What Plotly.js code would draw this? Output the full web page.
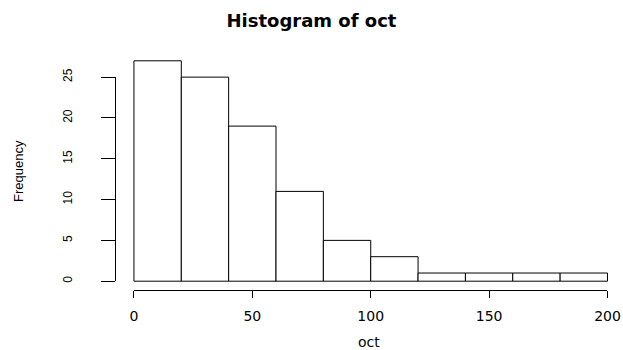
<!DOCTYPE html>
<html>
<head>
<meta charset="utf-8">
<script src="https://cdn.plot.ly/plotly-3.0.1.min.js"></script>
<style>html,body{margin:0;padding:0;background:#fff;}#chart{width:623px;height:350px;}</style>
</head>
<body>
<div id="chart"></div>
<script>
// Histogram data
const breaks = [0, 20, 40, 60, 80, 100, 120, 140, 160, 180, 200];
const counts = [27, 25, 19, 11, 5, 3, 1, 1, 1, 1];
const xTickVals = [0, 50, 100, 150, 200];
const yTickVals = [0, 5, 10, 15, 20, 25];
const titleText = "Histogram of oct";
const xLabel = "oct";
const yLabel = "Frequency";

// R-style plot region: 4% extension of data ranges
const xMin = breaks[0], xMax = breaks[breaks.length - 1];
const yMax = Math.max(...counts);
const xPad = 0.04 * (xMax - xMin);
const yPad = 0.04 * yMax;
const xRange = [xMin - xPad, 206.55];
const yRange = [-yPad, yMax + yPad];

const centers = counts.map((_, i) => (breaks[i] + breaks[i + 1]) / 2);
const widths = counts.map((_, i) => breaks[i + 1] - breaks[i]);

const xSpan = xRange[1] - xRange[0];
const ySpan = yRange[1] - yRange[0];
const x2Domain = [(xMin - xRange[0]) / xSpan, (xMax - xRange[0]) / xSpan];
const y2Domain = [(0 - yRange[0]) / ySpan, (yTickVals[yTickVals.length - 1] - yRange[0]) / ySpan];

const tickFont = {family: "Liberation Sans, Arial, sans-serif", size: 12, color: "#000"};

const data = [
  {
    type: "bar",
    x: centers,
    y: counts,
    width: widths,
    marker: {color: "#ffffff", line: {color: "#000000", width: 1}},
    hoverinfo: "skip",
    showlegend: false
  },
  {
    type: "scatter",
    x: [], y: [],
    xaxis: "x2", yaxis: "y2",
    mode: "markers",
    showlegend: false,
    hoverinfo: "skip"
  }
];

const layout = {
  width: 623,
  height: 350,
  margin: {l: 115, r: 0, t: 52, b: 60},
  paper_bgcolor: "#ffffff",
  plot_bgcolor: "rgba(0,0,0,0)",
  showlegend: false,
  bargap: 0,
  title: {
    text: titleText,
    x: 0.5, xref: "container",
    y: 1 - 21 / 350, yref: "container", yanchor: "middle",
    font: {family: "DejaVu Sans, sans-serif", size: 18, weight: "bold", color: "#000"}
  },
  xaxis: {
    range: xRange, domain: [0, 1],
    showgrid: false, zeroline: false, showline: false,
    showticklabels: false, ticks: "", fixedrange: true
  },
  yaxis: {
    range: yRange, domain: [0, 1],
    showgrid: false, zeroline: false, showline: false,
    showticklabels: false, ticks: "", fixedrange: true
  },
  xaxis2: {
    range: [xMin, xMax], domain: x2Domain,
    anchor: "free", position: 0,
    showgrid: false, zeroline: false,
    showline: true, linecolor: "#000", linewidth: 1,
    ticks: "outside", ticklen: 7, tickwidth: 1, tickcolor: "#000",
    tickmode: "array", tickvals: xTickVals, ticktext: xTickVals.map(String),
    tickfont: {family: "DejaVu Sans, sans-serif", size: 14, color: "#000"},
    ticklabelstandoff: 6,
    fixedrange: true
  },
  yaxis2: {
    range: [0, yTickVals[yTickVals.length - 1]], domain: y2Domain,
    anchor: "free", position: 0,
    showgrid: false, zeroline: false,
    showline: true, linecolor: "#000", linewidth: 1,
    ticks: "outside", ticklen: 14, tickwidth: 1, tickcolor: "#000",
    tickmode: "array", tickvals: yTickVals, ticktext: yTickVals.map(String),
    tickangle: -90,
    tickfont: tickFont,
    ticklabelstandoff: 24,
    fixedrange: true
  },
  annotations: [
    {
      text: xLabel, xref: "paper", yref: "paper", x: 0.5, y: 0,
      xanchor: "center", yanchor: "middle", yshift: -52, showarrow: false,
      font: {family: "DejaVu Sans, sans-serif", size: 14, color: "#000"}
    },
    {
      text: yLabel, xref: "paper", yref: "paper", x: 0, y: 0.5,
      xanchor: "center", yanchor: "middle", xshift: -97, showarrow: false,
      textangle: -90,
      font: {family: "Liberation Sans, Arial, sans-serif", size: 13, color: "#000"}
    }
  ]
};

Plotly.newPlot("chart", data, layout, {displayModeBar: false, staticPlot: true});
</script>
</body>
</html>
